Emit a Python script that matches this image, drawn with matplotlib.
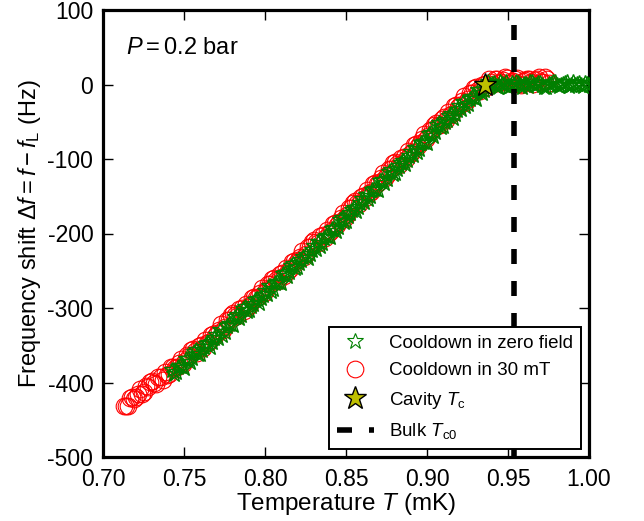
import matplotlib
matplotlib.use("Agg")
import matplotlib.pyplot as plt
from matplotlib.lines import Line2D

plt.rcParams['font.family'] = ['Liberation Sans', 'DejaVu Sans']
plt.rcParams['mathtext.fontset'] = 'custom'
plt.rcParams['mathtext.rm'] = 'Liberation Sans'
plt.rcParams['mathtext.it'] = 'Liberation Sans:italic'
plt.rcParams['mathtext.bf'] = 'Liberation Sans:bold'
plt.rcParams['axes.unicode_minus'] = False

# ---- data ----
# cooldown in zero field, sweep a
T_zero_a = [0.7425, 0.7450, 0.7475, 0.7500, 0.7525, 0.7550, 0.7575, 0.7600, 0.7625, 0.7650,
            0.7675, 0.7700, 0.7725, 0.7750, 0.7775, 0.7800, 0.7825, 0.7850, 0.7875, 0.7900,
            0.7925, 0.7950, 0.7975, 0.8000, 0.8025, 0.8050, 0.8075, 0.8100, 0.8125, 0.8150,
            0.8175, 0.8200, 0.8225, 0.8250, 0.8275, 0.8300, 0.8325, 0.8350, 0.8375, 0.8400,
            0.8425, 0.8450, 0.8475, 0.8500, 0.8525, 0.8550, 0.8575, 0.8600, 0.8625, 0.8650,
            0.8675, 0.8700, 0.8725, 0.8750, 0.8775, 0.8800, 0.8825, 0.8850, 0.8875, 0.8900,
            0.8925, 0.8950, 0.8975, 0.9000, 0.9025, 0.9050, 0.9075, 0.9100, 0.9125, 0.9150,
            0.9175, 0.9200, 0.9225, 0.9250, 0.9275, 0.9300, 0.9325, 0.9350, 0.9375,
            0.9400, 0.9425, 0.9450, 0.9475, 0.9500, 0.9525, 0.9550, 0.9575, 0.9600, 0.9625,
            0.9650, 0.9675, 0.9700, 0.9725, 0.9750, 0.9775, 0.9800, 0.9825, 0.9850, 0.9875,
            0.9900, 0.9925, 0.9950, 0.9975, 1.0000]
df_zero_a = [-383, -386, -378, -380, -368, -367, -357, -362, -353, -347,
             -346, -336, -330, -332, -322, -323, -310, -309, -299, -303,
             -294, -288, -287, -277, -271, -274, -265, -266, -253, -252,
             -241, -245, -236, -229, -227, -217, -211, -213, -204, -205,
             -192, -191, -179, -183, -173, -166, -164, -154, -148, -150,
             -140, -141, -128, -127, -115, -119, -110, -103, -101, -91,
             -85, -87, -77, -78, -65, -64, -52, -56, -47, -40,
             -39, -29, -23, -26, -17, -19, -7, -7, 3,
             1, -2, 3, 0, -3, 2, 4, -1, 1, -2,
             3, 0, 2, -3, 1, 4, -1, 0, 2, -2,
             3, 1, -1, 2, 0]
# cooldown in zero field, sweep b
T_zero_b = [0.74375, 0.74625, 0.74875, 0.75125, 0.75375, 0.75625, 0.75875, 0.76125, 0.76375, 0.76625,
            0.76875, 0.77125, 0.77375, 0.77625, 0.77875, 0.78125, 0.78375, 0.78625, 0.78875, 0.79125,
            0.79375, 0.79625, 0.79875, 0.80125, 0.80375, 0.80625, 0.80875, 0.81125, 0.81375, 0.81625,
            0.81875, 0.82125, 0.82375, 0.82625, 0.82875, 0.83125, 0.83375, 0.83625, 0.83875, 0.84125,
            0.84375, 0.84625, 0.84875, 0.85125, 0.85375, 0.85625, 0.85875, 0.86125, 0.86375, 0.86625,
            0.86875, 0.87125, 0.87375, 0.87625, 0.87875, 0.88125, 0.88375, 0.88625, 0.88875, 0.89125,
            0.89375, 0.89625, 0.89875, 0.90125, 0.90375, 0.90625, 0.90875, 0.91125, 0.91375, 0.91625,
            0.91875, 0.92125, 0.92375, 0.92625, 0.92875, 0.93125, 0.93375, 0.93625,
            0.93875, 0.94125, 0.94375, 0.94625, 0.94875, 0.95125, 0.95375, 0.95625, 0.95875, 0.96125,
            0.96375, 0.96625, 0.96875, 0.97125, 0.97375, 0.97625, 0.97875, 0.98125, 0.98375, 0.98625,
            0.98875, 0.99125, 0.99375, 0.99625, 0.99875]
df_zero_b = [-389, -379, -378, -369, -372, -359, -362, -356, -348, -352,
             -340, -340, -336, -324, -322, -312, -314, -301, -304, -297,
             -289, -293, -282, -281, -277, -267, -265, -255, -257, -244,
             -246, -239, -231, -233, -222, -221, -217, -206, -204, -194,
             -196, -182, -184, -176, -168, -170, -159, -158, -154, -142,
             -140, -130, -132, -118, -120, -113, -105, -107, -96, -95,
             -91, -79, -77, -67, -69, -55, -57, -50, -42, -45,
             -34, -33, -29, -19, -17, -8, -11, 1,
             -1, 2, -3, 1, 3, -2, 0, 2, -4, 1,
             3, -1, 2, 0, -3, 1, 4, -2, 1, 3,
             -1, 0, 2, -2, 1]

# cooldown in 30 mT, sweep a
T_30mT_a = [0.7130, 0.7155, 0.7180, 0.7205, 0.7230, 0.7255, 0.7280, 0.7305, 0.7330, 0.7355,
            0.7380, 0.7405, 0.7430, 0.7455, 0.7480, 0.7505, 0.7530, 0.7555, 0.7580, 0.7605,
            0.7630, 0.7655, 0.7680, 0.7705, 0.7730, 0.7755, 0.7780, 0.7805, 0.7830, 0.7855,
            0.7880, 0.7905, 0.7930, 0.7955, 0.7980, 0.8005, 0.8030, 0.8055, 0.8080, 0.8105,
            0.8130, 0.8155, 0.8180, 0.8205, 0.8230, 0.8255, 0.8280, 0.8305, 0.8330, 0.8355,
            0.8380, 0.8405, 0.8430, 0.8455, 0.8480, 0.8505, 0.8530, 0.8555, 0.8580, 0.8605,
            0.8630, 0.8655, 0.8680, 0.8705, 0.8730, 0.8755, 0.8780, 0.8805, 0.8830, 0.8855,
            0.8880, 0.8905, 0.8930, 0.8955, 0.8980, 0.9005, 0.9030, 0.9055, 0.9080, 0.9105,
            0.9130, 0.9155, 0.9180, 0.9205, 0.9230, 0.9255, 0.9280, 0.9305, 0.9330, 0.9355,
            0.9380, 0.9405, 0.9430, 0.9455, 0.9480, 0.9505, 0.9530, 0.9555, 0.9580, 0.9605,
            0.9630, 0.9655, 0.9680, 0.9705, 0.9730, 0.9755]
df_30mT_a = [-432, -431, -420, -420, -409, -413, -406, -398, -402, -392,
             -386, -389, -379, -379, -368, -371, -364, -355, -360, -350,
             -343, -346, -335, -334, -322, -325, -316, -307, -311, -300,
             -294, -296, -285, -285, -273, -276, -268, -260, -264, -253,
             -246, -248, -237, -236, -224, -227, -218, -209, -213, -202,
             -195, -197, -186, -185, -172, -175, -166, -157, -160, -149,
             -142, -144, -132, -131, -119, -122, -113, -104, -108, -97,
             -89, -91, -80, -79, -66, -69, -61, -52, -55, -44,
             -37, -39, -28, -27, -16, -19, -12, -4, -9, 1,
             7, 1, 7, 3, 10, 2, 5, 9, 0, 6,
             8, 1, 7, 3, 10, 2]
# cooldown in 30 mT, sweep b
T_30mT_b = [0.71425, 0.71675, 0.71925, 0.72175, 0.72425, 0.72675, 0.72925, 0.73175, 0.73425, 0.73675,
            0.73925, 0.74175, 0.74425, 0.74675, 0.74925, 0.75175, 0.75425, 0.75675, 0.75925, 0.76175,
            0.76425, 0.76675, 0.76925, 0.77175, 0.77425, 0.77675, 0.77925, 0.78175, 0.78425, 0.78675,
            0.78925, 0.79175, 0.79425, 0.79675, 0.79925, 0.80175, 0.80425, 0.80675, 0.80925, 0.81175,
            0.81425, 0.81675, 0.81925, 0.82175, 0.82425, 0.82675, 0.82925, 0.83175, 0.83425, 0.83675,
            0.83925, 0.84175, 0.84425, 0.84675, 0.84925, 0.85175, 0.85425, 0.85675, 0.85925, 0.86175,
            0.86425, 0.86675, 0.86925, 0.87175, 0.87425, 0.87675, 0.87925, 0.88175, 0.88425, 0.88675,
            0.88925, 0.89175, 0.89425, 0.89675, 0.89925, 0.90175, 0.90425, 0.90675, 0.90925, 0.91175,
            0.91425, 0.91675, 0.91925, 0.92175, 0.92425, 0.92675, 0.92925, 0.93175, 0.93425, 0.93675,
            0.93925, 0.94175, 0.94425, 0.94675, 0.94925, 0.95175, 0.95425, 0.95675, 0.95925, 0.96175,
            0.96425, 0.96675, 0.96925, 0.97175, 0.97425]
df_30mT_b = [-432, -421, -422, -415, -416, -405, -399, -401, -393, -396,
             -390, -379, -381, -374, -375, -363, -357, -358, -351, -354,
             -347, -336, -337, -329, -329, -316, -309, -310, -302, -304,
             -298, -286, -287, -280, -280, -268, -261, -263, -255, -257,
             -250, -238, -239, -231, -231, -218, -211, -212, -204, -206,
             -199, -187, -188, -179, -179, -166, -159, -159, -151, -153,
             -146, -133, -134, -126, -126, -113, -106, -107, -99, -100,
             -93, -81, -82, -73, -73, -61, -54, -54, -46, -48,
             -41, -29, -30, -22, -23, -11, -5, -7, 0, -3,
             4, 8, 2, 6, 9, 3, 7, 1, 5, 8,
             3, 6, 10, 4, 7]

Tc_cavity = [0.936]
df_cavity = [0.0]
Tc0_bulk = 0.954

x_ticks = [0.70, 0.75, 0.80, 0.85, 0.90, 0.95, 1.00]
y_ticks = [-500, -400, -300, -200, -100, 0, 100]

# ---- figure ----
fig = plt.figure(figsize=(6.44, 5.21), dpi=100)
ax = fig.add_axes([103/644, 1-457/521, 486/644, 447/521])

red_style = dict(linestyle='none', marker='o', ms=12, mfc='none', mec='r', mew=0.8, zorder=2)
green_style = dict(linestyle='none', marker='*', ms=12, mfc='none', mec='g', mew=1.0, zorder=3)
star_style = dict(linestyle='none', marker='*', ms=17, mfc=(0.75, 0.75, 0), mec='k', mew=1.0)
dash_style = dict(color='k', lw=4, linestyle=(3.06, (2.7, 3.06)))

ax.plot(T_30mT_a, df_30mT_a, **red_style)
ax.plot(T_30mT_b, df_30mT_b, **red_style)
ax.plot(T_zero_a, df_zero_a, **green_style)
ax.plot(T_zero_b, df_zero_b, **green_style)
ax.plot(Tc_cavity, df_cavity, zorder=5, **star_style)
ax.plot([Tc0_bulk, Tc0_bulk], [100, -500], zorder=4, **dash_style)

ax.set_xlim(0.70, 1.00)
ax.set_ylim(-500, 100)
ax.set_xticks(x_ticks)
ax.set_xticklabels([f'{v:.2f}' for v in x_ticks])
ax.set_yticks(y_ticks)
ax.set_yticklabels([str(v) for v in y_ticks])
ax.tick_params(direction='in', top=True, right=True, length=7, width=1,
               labelsize=16.5)
ax.tick_params(axis='x', pad=8)
ax.tick_params(axis='y', pad=7)
for s in ax.spines.values():
    s.set_linewidth(2.3)

ax.set_xlabel('Temperature $\\mathit{T}$ (mK)', fontsize=17.5, labelpad=0)
ax.set_ylabel('Frequency shift $\\Delta f = f - f_{\\rm L}$ (Hz)', fontsize=17, labelpad=3)
ax.text(0.047, 0.915, '$\\mathit{P} = 0.2$ bar', transform=ax.transAxes,
        fontsize=17, ha='left', va='center')

handles = [
    Line2D([], [], linestyle='none', marker='*', ms=12, mfc='none', mec='g', mew=0.8),
    Line2D([], [], linestyle='none', marker='o', ms=12, mfc='none', mec='r', mew=0.8),
    Line2D([], [], **star_style),
    Line2D([], [], color='k', lw=4, dashes=(2.7, 3.06)),
]
labels = ['Cooldown in zero field', 'Cooldown in 30 mT',
          'Cavity $T_{\\rm c}$', 'Bulk $T_{\\rm c0}$']
leg = ax.legend(handles, labels, loc='lower right', fontsize=13.5, frameon=True,
                fancybox=False, edgecolor='k', framealpha=1, numpoints=1,
                borderaxespad=0.45, borderpad=0.4, handlelength=2.0,
                handletextpad=0.8, labelspacing=0.55)
leg.get_frame().set_linewidth(1.4)

fig.savefig('out.png', dpi=100)
